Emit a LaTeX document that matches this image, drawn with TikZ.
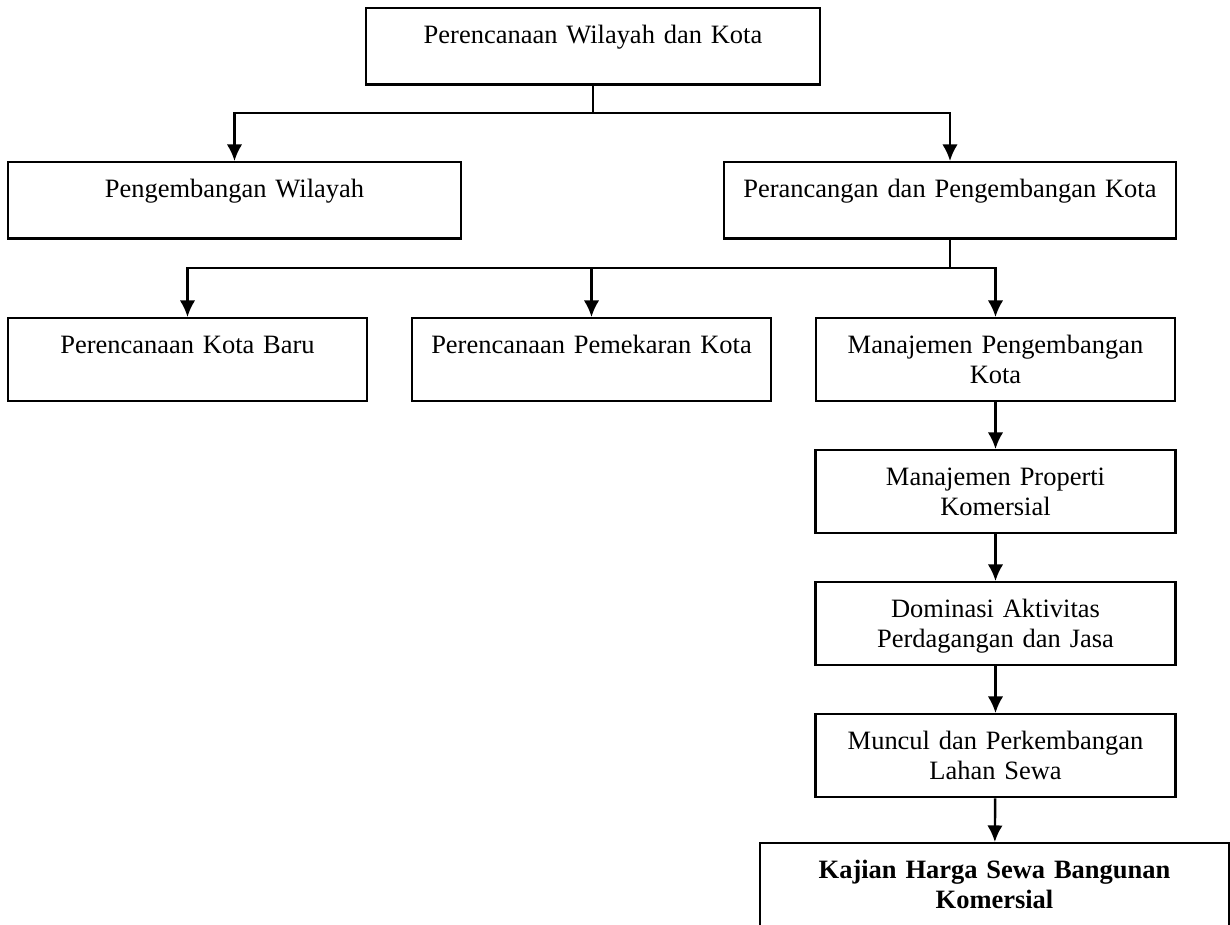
\documentclass[tikz,border=0pt]{standalone}
\usepackage{fontspec}
\setmainfont{Liberation Serif}
\usepackage{tikz}
\usetikzlibrary{shapes,arrows.meta}
\usepackage{xcolor}

\begin{document}
\begin{tikzpicture}[x=0.4533pt, y=-0.4533pt,
					box/.style={draw, line width=1.1pt, anchor=north, inner sep=0pt, align=center,
						font=\fontsize{12pt}{13.5pt}\selectfont, text height=16pt, text depth=18.5pt},
					tall/.style={box, text depth=21.6pt},
					arrow/.style={line width=1.1pt, -{Latex[length=7.5pt,width=7pt]}},
					stem/.style={line width=0.7pt}]
    \useasboundingbox (0,0) rectangle (1230,924);
    \clip (0,0) rectangle (1230,924);
    % Place nodes
    \node [box, text width=205.8pt] (A) at (593,7){Perencanaan Wilayah dan Kota};
    \node [box, text width=205.3pt] (B) at (234.5,161){Pengembangan Wilayah};
    \node [box, text width=204.9pt] (C) at (950,161){Perancangan dan Pengembangan Kota};
    \node [tall, text width=162.7pt] (D) at (187.5,317){Perencanaan Kota Baru};
    \node [tall, text width=162.7pt] (E) at (591.5,317){Perencanaan Pemekaran Kota};
    \node [tall, text width=162.7pt] (F) at (995.5,317){Manajemen Pengembangan\\Kota};
    \node [tall, text width=163.2pt] (G) at (995.5,449){Manajemen Properti\\Komersial};
    \node [tall, text width=163.2pt] (H) at (995.5,581){Dominasi Aktivitas\\Perdagangan dan Jasa};
    \node [tall, text width=163.2pt] (I) at (995.5,713){Muncul dan Perkembangan\\Lahan Sewa};
    \node [box, text width=212.6pt, text depth=24.8pt] (J) at (994.5,842){\bfseries Kajian Harga Sewa Bangunan\\Komersial};
    \coordinate (j1) at (593,113);
    \coordinate (j2) at (950,268);
    % Draw edges
    \draw[stem] (A) -- (j1);
    \draw[arrow] (j1) -| (B);
    \draw[arrow] (j1) -| (C);
    \draw[stem] (C) -- (j2);
    \draw[arrow] (j2) -| (D);
    \draw[arrow] (j2) -| (E);
    \draw[arrow] (j2) -| (F);
    \draw[arrow] (F) -- (G);
    \draw[arrow] (G) -- (H);
    \draw[arrow] (H) -- (I);
    \draw[arrow] (I) -- (J);
\end{tikzpicture}
\end{document}
